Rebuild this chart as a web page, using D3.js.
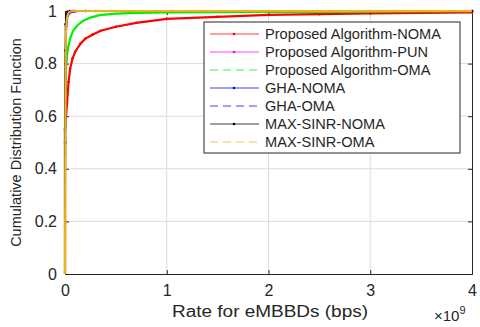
<!DOCTYPE html>
<html>
<head>
<meta charset="utf-8">
<script src="https://cdn.jsdelivr.net/npm/d3@7"></script>
<style>
  body { margin: 0; background: #fff; }
  text { font-family: "Liberation Sans", Arial, sans-serif; fill: #262626; }
</style>
</head>
<body>
<svg id="chart" width="480" height="327"></svg>
<script>
// rate values are in units of 1e9 bps
const X_TICKS = [0, 1, 2, 3, 4]
const Y_TICKS = [0, 0.2, 0.4, 0.6, 0.8, 1]

const nomaX = [0, 0.0, 0.02, 0.035, 0.05, 0.075, 0.1, 0.15, 0.2, 0.27, 0.35, 0.5, 0.7, 1.0, 1.5, 2.0, 2.5, 3.0, 3.5, 4.0]
const nomaY = [0, 0.55, 0.65, 0.73, 0.78, 0.82, 0.845, 0.875, 0.895, 0.91, 0.925, 0.94, 0.955, 0.97, 0.978, 0.985, 0.988, 0.991, 0.993, 0.995]

const omaX = [0, 0.0, 0.01, 0.02, 0.03, 0.05, 0.08, 0.12, 0.18, 0.25, 0.34, 0.5, 0.7, 1.0, 2.0, 3.0, 4.0]
const omaY = [0, 0.6, 0.78, 0.83, 0.86, 0.895, 0.925, 0.945, 0.963, 0.975, 0.984, 0.99, 0.993, 0.995, 0.997, 0.998, 0.999]

const punX = [0, 0.005, 0.01, 0.02, 0.03, 0.05, 0.1, 0.2, 0.3, 0.45, 0.6, 0.75, 0.9, 1.05, 1.2, 1.3, 2.0, 3.0, 4.0]
const punY = [0, 0.8, 0.93, 0.97, 0.985, 0.994, 0.998, 1, 1, 1, 1, 1, 1, 1, 1, 1, 1, 1, 1]

const ghaNomaX = [0, 0.003, 0.006, 0.01, 0.02, 0.04, 0.08, 0.2, 4.0]
const ghaNomaY = [0, 0.5, 0.85, 0.94, 0.98, 0.995, 1, 1, 1]

const ghaOmaX = [0, 0.004, 0.008, 0.012, 0.025, 0.05, 0.1, 0.2, 4.0]
const ghaOmaY = [0, 0.5, 0.85, 0.93, 0.975, 0.993, 1, 1, 1]

const sinrNomaX = [0, 0.001, 0.003, 0.006, 0.012, 0.025, 0.05, 0.1, 4.0]
const sinrNomaY = [0, 0.5, 0.85, 0.95, 0.985, 0.997, 1, 1, 1]

const sinrOmaX = [0, 0.004, 0.008, 0.015, 0.025, 0.04, 0.06, 0.1, 4.0]
const sinrOmaY = [0, 0.6, 0.9, 0.96, 0.985, 0.995, 0.999, 1, 1]

// plotDash: how the dense MATLAB curve looks on the axes; dash: legend sample
const SERIES = [
  {name: "Proposed Algorithm-NOMA", x: nomaX, y: nomaY, color: "#ff0000", dash: null, plotDash: null, width: 2.2, marker: true},
  {name: "Proposed Algorithm-PUN", x: punX, y: punY, color: "#ff00ff", dash: null, plotDash: null, width: 1.5, marker: true},
  {name: "Proposed Algorithm-OMA", x: omaX, y: omaY, color: "#00ee00", dash: "8,5", plotDash: null, width: 2.2, marker: false},
  {name: "GHA-NOMA", x: ghaNomaX, y: ghaNomaY, color: "#0000ff", dash: null, plotDash: null, width: 1.5, marker: true},
  {name: "GHA-OMA", x: ghaOmaX, y: ghaOmaY, color: "#0000ff", dash: "8,5", plotDash: "8,5", width: 1.5, marker: false},
  {name: "MAX-SINR-NOMA", x: sinrNomaX, y: sinrNomaY, color: "#000000", dash: null, plotDash: null, width: 1.5, marker: true},
  {name: "MAX-SINR-OMA", x: sinrOmaX, y: sinrOmaY, color: "#edb120", dash: "8,5", plotDash: null, width: 2.2, marker: false}
]

const margin = {left: 65, top: 11, right: 8, bottom: 53}
const W = 480, H = 327
const pw = W - margin.left - margin.right
const ph = H - margin.top - margin.bottom

const svg = d3.select("#chart")
const g = svg.append("g").attr("transform", `translate(${margin.left},${margin.top})`)

const x = d3.scaleLinear().domain([0, 4]).range([0, pw])
const y = d3.scaleLinear().domain([0, 1]).range([ph, 0])

// grid
g.selectAll("line.gx").data(X_TICKS.slice(1, -1)).enter().append("line")
  .attr("x1", d => x(d)).attr("x2", d => x(d)).attr("y1", 0).attr("y2", ph)
  .attr("stroke", "#dcdcdc").attr("stroke-width", 1)
g.selectAll("line.gy").data(Y_TICKS.slice(1, -1)).enter().append("line")
  .attr("y1", d => y(d)).attr("y2", d => y(d)).attr("x1", 0).attr("x2", pw)
  .attr("stroke", "#dcdcdc").attr("stroke-width", 1)

// axes (inward ticks like MATLAB)
g.append("g").attr("transform", `translate(0,${ph})`)
  .call(d3.axisBottom(x).tickValues(X_TICKS).tickSize(-4).tickPadding(11).tickFormat(d3.format("d")))
g.append("g")
  .call(d3.axisLeft(y).tickValues(Y_TICKS).tickSize(-4).tickPadding(8).tickFormat(d => d))
g.append("g").call(d3.axisTop(x).tickValues(X_TICKS).tickSize(-4).tickFormat(""))
g.append("g").attr("transform", `translate(${pw},0)`)
  .call(d3.axisRight(y).tickValues(Y_TICKS).tickSize(-4).tickFormat(""))

g.selectAll(".domain").attr("stroke", "#262626")
g.selectAll(".tick line").attr("stroke", "#262626")
g.selectAll(".tick text").attr("font-size", 16).attr("fill", "#262626")
  .attr("font-family", "Liberation Sans, Arial, sans-serif")

// curves
const line = d3.line().x(d => x(d[0])).y(d => y(d[1]))
SERIES.forEach(s => {
  const pts = s.x.map((v, i) => [v, s.y[i]])
  g.append("path").datum(pts)
    .attr("d", line)
    .attr("fill", "none")
    .attr("stroke", s.color)
    .attr("stroke-width", s.width)
    .attr("stroke-dasharray", s.plotDash)
  if (s.marker) {
    g.selectAll(null).data(pts.slice(1)).enter().append("circle")
      .attr("cx", d => x(d[0])).attr("cy", d => y(d[1])).attr("r", 1.3)
      .attr("fill", s.color)
  }
})

// legend
const legend = g.append("g").attr("transform", `translate(${204 - margin.left},${22 - margin.top})`)
legend.append("rect").attr("width", 256).attr("height", 131)
  .attr("fill", "#fff").attr("stroke", "#262626").attr("stroke-width", 1)
SERIES.forEach((s, i) => {
  const row = legend.append("g").attr("transform", `translate(0,${12 + i * 18})`)
  row.append("line").attr("x1", 6).attr("x2", 55).attr("y1", 0).attr("y2", 0)
    .attr("stroke", s.color).attr("stroke-width", 1.2)
    .attr("stroke-dasharray", s.dash).attr("opacity", 0.75)
  if (s.marker) row.append("circle").attr("cx", 30).attr("cy", 0).attr("r", 1.3).attr("fill", s.color)
  row.append("text").attr("x", 61).attr("y", 5).attr("font-size", 14.6).text(s.name)
})

// labels
svg.append("text").attr("x", 270).attr("y", 317)
  .attr("text-anchor", "middle").attr("font-size", 16)
  .attr("textLength", 196).attr("lengthAdjust", "spacingAndGlyphs")
  .text("Rate for eMBBDs (bps)")
svg.append("text").attr("transform", `translate(21,${margin.top + ph / 2}) rotate(-90)`)
  .attr("text-anchor", "middle").attr("font-size", 14.5).text("Cumulative Distribution Function")
const ex = svg.append("text").attr("x", 434).attr("y", 321).attr("font-size", 15)
ex.append("tspan").text("\u00d710")
ex.append("tspan").attr("dy", -7).attr("font-size", 11).text("9")
</script>
</body>
</html>
